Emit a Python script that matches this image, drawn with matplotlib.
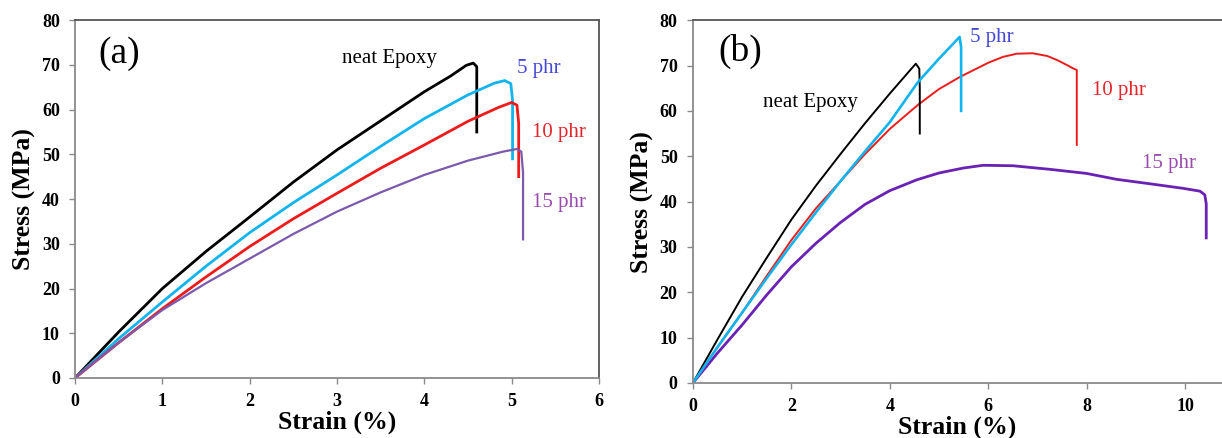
import matplotlib.pyplot as plt

plt.rcParams['font.family'] = ['Liberation Serif', 'DejaVu Serif']

# ---- panel (a) data: strain (%), stress (MPa) ----
a_neat_x = [0, 0.5, 1, 1.5, 2, 2.5, 3, 3.5, 4, 4.3, 4.48, 4.56, 4.6, 4.6]
a_neat_y = [0, 10.3, 20, 28.3, 36, 43.8, 51, 57.5, 64, 67.5, 69.9, 70.4, 69.6, 55]
a_5_x = [0, 0.5, 1, 1.5, 2, 2.5, 3, 3.5, 4, 4.5, 4.8, 4.92, 4.99, 5.01, 5.01]
a_5_y = [0, 8.8, 17, 25, 32.5, 39.2, 45.4, 51.8, 58, 63.3, 65.9, 66.5, 65.8, 62, 49]
a_10_x = [0, 0.5, 1, 1.5, 2, 2.5, 3, 3.5, 4, 4.5, 4.85, 5.0, 5.06, 5.08, 5.08]
a_10_y = [0, 7.9, 15.5, 22.6, 29.4, 35.6, 41.3, 46.9, 52.1, 57.4, 60.5, 61.6, 61, 57, 45]
a_15_x = [0, 0.5, 1, 1.5, 2, 2.5, 3, 3.5, 4, 4.5, 4.9, 5.06, 5.11, 5.13, 5.13]
a_15_y = [0, 7.9, 15.2, 21.2, 26.7, 32.2, 37.2, 41.5, 45.4, 48.6, 50.6, 51.2, 50.6, 46, 31]

# ---- panel (b) data ----
b_neat_x = [0, 0.5, 1, 1.5, 2, 2.5, 3, 3.5, 4, 4.4, 4.53, 4.6, 4.61, 4.61]
b_neat_y = [0, 9.6, 19, 27.6, 36, 43.5, 50.5, 57.3, 63.8, 68.8, 70.4, 69.3, 65, 55]
b_5_x = [0, 0.5, 1, 1.5, 2, 2.5, 3, 3.5, 4, 4.57, 5, 5.42, 5.45, 5.45]
b_5_y = [0, 7.9, 15.5, 23.1, 30.5, 37.6, 44.5, 51.1, 57.5, 66.3, 71.5, 76.3, 74, 60]
b_10_x = [0, 0.5, 1, 1.5, 2, 2.5, 3, 3.5, 4, 4.57, 5, 5.43, 6, 6.3, 6.58, 6.9, 7.2, 7.4, 7.6, 7.72, 7.8, 7.8]
b_10_y = [0, 7.9, 15.5, 23.6, 31.5, 38.5, 44.5, 50.5, 56, 61.3, 64.8, 67.5, 70.6, 71.9, 72.6, 72.7, 72.1, 71.2, 70.1, 69.4, 69, 52.5]
b_15_x = [0, 0.5, 1, 1.5, 2, 2.5, 3, 3.5, 4, 4.55, 5, 5.5, 5.9, 6.5, 7.26, 8, 8.61, 9.3, 9.97, 10.3, 10.4, 10.43, 10.43]
b_15_y = [0, 6.6, 12.8, 19.4, 25.6, 30.8, 35.4, 39.4, 42.4, 44.8, 46.3, 47.4, 48.0, 47.9, 47.1, 46.2, 44.9, 43.9, 42.9, 42.3, 41.5, 39.5, 32]

c_black = '#000000'
c_cyan = '#12B4EE'
c_red = '#EE1B1B'
c_purple_a = '#7B5AAE'
c_purple_b = '#6A22B4'
t_blue = '#4547D6'
t_red = '#E3262B'
t_purple = '#9A4BAF'

fig = plt.figure(figsize=(12.22, 4.38), dpi=100)
ax1 = fig.add_axes([0.0614, 0.137, 0.4288, 0.817])
ax2 = fig.add_axes([0.567, 0.1256, 0.433, 0.8284])

ax1.plot(a_neat_x, a_neat_y, color=c_black, lw=2.0, solid_joinstyle='round')
ax1.plot(a_5_x, a_5_y, color=c_cyan, lw=2.0, solid_joinstyle='round')
ax1.plot(a_10_x, a_10_y, color=c_red, lw=2.0, solid_joinstyle='round')
ax1.plot(a_15_x, a_15_y, color=c_purple_a, lw=1.6, solid_joinstyle='round')

ax2.plot(b_15_x, b_15_y, color=c_purple_b, lw=2.0, solid_joinstyle='round')
ax2.plot(b_10_x, b_10_y, color=c_red, lw=1.4, solid_joinstyle='round')
ax2.plot(b_neat_x, b_neat_y, color=c_black, lw=1.4, solid_joinstyle='round')
ax2.plot(b_5_x, b_5_y, color=c_cyan, lw=1.9, solid_joinstyle='round')

for ax in (ax1, ax2):
    ax.set_ylim(0, 80)
    ax.set_yticks(range(0, 81, 10))
    ax.spines['left'].set_color('#8a8a8a')
    ax.spines['bottom'].set_color('#8a8a8a')
    ax.spines['top'].set_color('#555555')
    ax.spines['right'].set_color('#555555')
    for s in ax.spines.values():
        s.set_linewidth(1.3)
    ax.tick_params(direction='out', length=4, width=1, color='#8a8a8a',
                   labelsize=13, pad=7)
    for lab in ax.get_xticklabels() + ax.get_yticklabels():
        lab.set_fontweight('bold')
    ax.set_xlabel('Strain (%)', fontsize=18.5, fontweight='bold', labelpad=0)
    ax.set_ylabel('Stress (MPa)', fontsize=18.5, fontweight='bold', labelpad=4)

ax1.set_xlim(0, 6)
ax1.set_xticks(range(0, 7))
ax2.set_xlim(0, 10.75)
ax2.set_xticks(range(0, 11, 2))
ax2.spines['right'].set_visible(False)

# annotations
ax1.text(0.27, 70.4, '(a)', fontsize=27)
ax1.text(3.06, 70.4, 'neat Epoxy', fontsize=15, color='black')
ax1.text(5.06, 68.2, '5 phr', fontsize=15, color=t_blue)
ax1.text(5.23, 53.9, '10 phr', fontsize=15, color=t_red)
ax1.text(5.23, 38.2, '15 phr', fontsize=15, color=t_purple)

ax2.text(0.51, 71.0, '(b)', fontsize=27)
ax2.text(1.43, 60.8, 'neat Epoxy', fontsize=15, color='black')
ax2.text(5.63, 75.2, '5 phr', fontsize=15, color=t_blue)
ax2.text(8.11, 63.5, '10 phr', fontsize=15, color=t_red)
ax2.text(9.13, 47.4, '15 phr', fontsize=15, color=t_purple)

fig.savefig('out.png', dpi=100)
